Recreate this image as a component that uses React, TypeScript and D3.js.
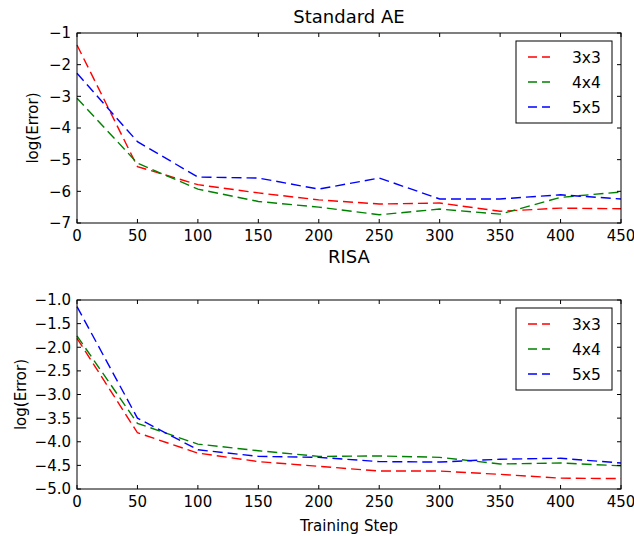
import React, { useEffect, useRef } from 'react';
import * as d3 from 'd3';

const steps = [0, 50, 100, 150, 200, 250, 300, 350, 400, 450];
const seriesNames = ['3x3', '4x4', '5x5'];
const seriesColors = ['#ff0000', '#008000', '#0000ff'];

// Standard AE
const ae3x3 = [-1.38, -5.22, -5.79, -6.05, -6.27, -6.4, -6.37, -6.63, -6.53, -6.55];
const ae4x4 = [-3.06, -5.11, -5.93, -6.32, -6.5, -6.74, -6.56, -6.72, -6.19, -6.02];
const ae5x5 = [-2.27, -4.43, -5.55, -5.58, -5.93, -5.58, -6.24, -6.24, -6.11, -6.24];

// RISA
const risa3x3 = [-1.81, -3.81, -4.24, -4.42, -4.52, -4.62, -4.62, -4.69, -4.77, -4.78];
const risa4x4 = [-1.76, -3.61, -4.05, -4.19, -4.31, -4.3, -4.33, -4.47, -4.45, -4.51];
const risa5x5 = [-1.14, -3.5, -4.17, -4.31, -4.33, -4.42, -4.43, -4.37, -4.35, -4.45];

const aeTicks = [-1, -2, -3, -4, -5, -6, -7];
const risaTicks = [-1.0, -1.5, -2.0, -2.5, -3.0, -3.5, -4.0, -4.5, -5.0];

const W = 634;
const H = 536;
const FONT = '"DejaVu Sans", sans-serif';

const App = () => {
  const ref = useRef<SVGSVGElement>(null);

  useEffect(() => {
    const svg = d3.select(ref.current);
    svg.selectAll('*').remove();

    const minus = (s: string) => s.replace('-', '\u2212');

    const drawPanel = (opts: {
      top: number;
      bottom: number;
      title: string;
      titleY: number;
      series: number[][];
      yTicks: number[];
      yFmt: (v: number) => string;
      yLabelX: number;
      xLabel?: string;
    }) => {
      const left = 77;
      const right = 621;
      const x = d3.scaleLinear().domain([0, 450]).range([left, right]);
      const y = d3
        .scaleLinear()
        .domain([d3.min(opts.yTicks)!, d3.max(opts.yTicks)!])
        .range([opts.bottom, opts.top]);

      const g = svg.append('g');

      // lines
      const line = d3
        .line<number>()
        .x((_, i) => x(steps[i]))
        .y(d => y(d));

      opts.series.forEach((s, i) => {
        g.append('path')
          .datum(s)
          .attr('fill', 'none')
          .attr('stroke', seriesColors[i])
          .attr('stroke-width', 1.4)
          .attr('stroke-dasharray', '10,5')
          .attr('d', line);
      });

      // frame
      g.append('rect')
        .attr('x', left)
        .attr('y', opts.top)
        .attr('width', right - left)
        .attr('height', opts.bottom - opts.top)
        .attr('fill', 'none')
        .attr('stroke', '#000')
        .attr('stroke-width', 1);

      // x ticks (inward, top and bottom)
      const tickLen = 4;
      steps.forEach(v => {
        const px = x(v);
        g.append('line')
          .attr('x1', px).attr('x2', px)
          .attr('y1', opts.bottom).attr('y2', opts.bottom - tickLen)
          .attr('stroke', '#000');
        g.append('line')
          .attr('x1', px).attr('x2', px)
          .attr('y1', opts.top).attr('y2', opts.top + tickLen)
          .attr('stroke', '#000');
        g.append('text')
          .attr('x', px)
          .attr('y', opts.bottom + 18)
          .attr('text-anchor', 'middle')
          .style('font-family', FONT)
          .style('font-size', '15px')
          .attr('fill', '#000')
          .text(String(v));
      });

      // y ticks (inward, left and right)
      opts.yTicks.forEach(v => {
        const py = y(v);
        g.append('line')
          .attr('x1', left).attr('x2', left + tickLen)
          .attr('y1', py).attr('y2', py)
          .attr('stroke', '#000');
        g.append('line')
          .attr('x1', right).attr('x2', right - tickLen)
          .attr('y1', py).attr('y2', py)
          .attr('stroke', '#000');
        g.append('text')
          .attr('x', left - 6)
          .attr('y', py)
          .attr('dy', '0.36em')
          .attr('text-anchor', 'end')
          .style('font-family', FONT)
          .style('font-size', '15px')
          .attr('fill', '#000')
          .text(minus(opts.yFmt(v)));
      });

      // y label
      g.append('text')
        .attr('transform', `translate(${opts.yLabelX},${(opts.top + opts.bottom) / 2}) rotate(-90)`)
        .attr('dy', '0.35em')
        .attr('text-anchor', 'middle')
        .style('font-family', FONT)
        .style('font-size', '15px')
        .attr('fill', '#000')
        .text('log(Error)');

      // title
      g.append('text')
        .attr('x', (left + right) / 2)
        .attr('y', opts.titleY)
        .attr('text-anchor', 'middle')
        .style('font-family', FONT)
        .style('font-size', '18px')
        .attr('fill', '#000')
        .text(opts.title);

      if (opts.xLabel) {
        g.append('text')
          .attr('x', (left + right) / 2)
          .attr('y', opts.bottom + 42)
          .attr('text-anchor', 'middle')
          .style('font-family', FONT)
          .style('font-size', '15px')
          .attr('fill', '#000')
          .text(opts.xLabel);
      }

      // legend
      const lx = 516;
      const ly = opts.top + 8;
      g.append('rect')
        .attr('x', lx)
        .attr('y', ly)
        .attr('width', 96)
        .attr('height', 82)
        .attr('fill', '#fff')
        .attr('stroke', '#000')
        .attr('stroke-width', 1);
      seriesNames.forEach((name, i) => {
        const ry = ly + 16 + i * 25;
        g.append('line')
          .attr('x1', lx + 12).attr('x2', lx + 34)
          .attr('y1', ry).attr('y2', ry)
          .attr('stroke', seriesColors[i])
          .attr('stroke-width', 1.4)
          .attr('stroke-dasharray', '9,5');
        g.append('text')
          .attr('x', lx + 56)
          .attr('y', ry)
          .attr('dy', '0.36em')
          .style('font-family', FONT)
          .style('font-size', '15.5px')
          .attr('fill', '#000')
          .text(name);
      });
    };

    drawPanel({
      top: 33,
      bottom: 223,
      title: 'Standard AE',
      titleY: 23,
      series: [ae3x3, ae4x4, ae5x5],
      yTicks: aeTicks,
      yFmt: v => d3.format('d')(v),
      yLabelX: 33,
    });

    drawPanel({
      top: 300,
      bottom: 489,
      title: 'RISA',
      titleY: 263,
      series: [risa3x3, risa4x4, risa5x5],
      yTicks: risaTicks,
      yFmt: v => d3.format('.1f')(v),
      yLabelX: 21,
      xLabel: 'Training Step',
    });
  }, []);

  return (
    <svg
      ref={ref}
      width={W}
      height={H}
      style={{ position: 'absolute', left: 0, top: 0, background: '#fff' }}
    />
  );
};

export default App;
